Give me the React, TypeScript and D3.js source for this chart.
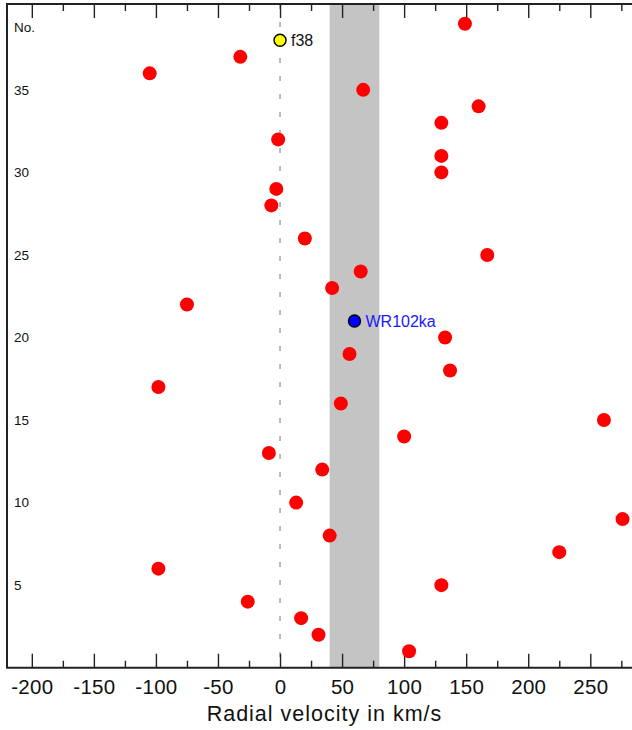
import React, { useEffect, useRef } from "react";
import * as d3 from "d3";

// star number vs. radial velocity (km/s)
const starNo = [1, 2, 3, 4, 5, 6, 7, 8, 9, 10, 12, 13, 14, 15, 16, 17, 18, 19, 20, 22, 23, 24, 25, 26, 28, 29, 30, 31, 32, 33, 34, 35, 36, 37, 39];
const velocity = [104, 31, 17, -26, 130, -98, 225, 40, 276, 13, 34, -9, 100, 261, 49, -98, 137, 56, 133, -75, 42, 65, 167, 20, -7, -3, 130, 130, -1.5, 130, 160, 67, -105, -32, 149];

// labelled stars
const markNames = ["f38", "WR102ka"];
const markNo = [38, 21];
const markVel = [0, 60];
const markFill = ["#ffff00", "#0000ff"];
const markText = ["#111111", "#1a1aff"];

// shaded velocity band
const band = [40, 80];

const majorTicks = [-200, -150, -100, -50, 0, 50, 100, 150, 200, 250];
const minorTicks = [-175, -125, -75, -25, 25, 75, 125, 175, 225, 275];
const yTickValues = [5, 10, 15, 20, 25, 30, 35, 38.8];
const yTickLabels = ["5", "10", "15", "20", "25", "30", "35", "No."];

const W = 632;
const H = 730;
const font = "'Liberation Sans', Arial, sans-serif";

const App = () => {
  const ref = useRef<SVGSVGElement>(null);

  useEffect(() => {
    if (!ref.current) return;
    const svg = d3.select(ref.current);
    svg.selectAll("*").remove();

    const left = 7, right = 630, top = 4, bottom = 667.7;

    const x = d3.scaleLinear().domain([-220, 282]).range([left, right]);
    const y = d3.scaleLinear().domain([0, 40.2]).range([bottom, top]);

    // band
    svg
      .append("rect")
      .attr("x", x(band[0]))
      .attr("y", top)
      .attr("width", x(band[1]) - x(band[0]))
      .attr("height", bottom - top)
      .attr("fill", "#c4c4c4");

    // zero line
    svg
      .append("line")
      .attr("x1", x(0))
      .attr("x2", x(0))
      .attr("y1", top)
      .attr("y2", bottom)
      .attr("stroke", "#777")
      .attr("stroke-width", 1)
      .attr("stroke-dasharray", "5,13");

    // axes
    const gBottom = svg.append("g").attr("transform", `translate(0,${bottom})`);
    gBottom.call(
      d3.axisBottom(x).tickValues(majorTicks).tickSize(-14).tickPadding(11.5).tickFormat(d => `${d}`)
    );
    const gBottomMinor = svg.append("g").attr("transform", `translate(0,${bottom})`);
    gBottomMinor.call(d3.axisBottom(x).tickValues(minorTicks).tickSize(-7).tickFormat(() => ""));

    const gTop = svg.append("g").attr("transform", `translate(0,${top})`);
    gTop.call(d3.axisTop(x).tickValues(majorTicks).tickSize(-14).tickFormat(() => ""));
    const gTopMinor = svg.append("g").attr("transform", `translate(0,${top})`);
    gTopMinor.call(d3.axisTop(x).tickValues(minorTicks).tickSize(-7).tickFormat(() => ""));

    svg.selectAll(".domain").remove();
    svg.selectAll(".tick line").attr("stroke", "#222").attr("stroke-width", 1.4);
    gBottom
      .selectAll(".tick text")
      .attr("font-family", font)
      .attr("font-size", 20.5)
      .attr("letter-spacing", 0.3)
      .attr("fill", "#111");

    // frame
    svg
      .append("path")
      .attr("d", `M${right + 2},${top}H${left}V${bottom}H${right + 2}`)
      .attr("fill", "none")
      .attr("stroke", "#222")
      .attr("stroke-width", 2);

    // y labels inside the plot
    svg
      .append("g")
      .selectAll("text")
      .data(yTickValues)
      .join("text")
      .attr("x", 14)
      .attr("y", d => y(d))
      .attr("dy", "0.35em")
      .attr("font-family", font)
      .attr("font-size", 13.5)
      .attr("fill", "#111")
      .text((d, i) => yTickLabels[i]);

    // red points
    svg
      .append("g")
      .selectAll("circle")
      .data(starNo)
      .join("circle")
      .attr("cx", (d, i) => x(velocity[i]))
      .attr("cy", d => y(d))
      .attr("r", 7)
      .attr("fill", "#ff0000");

    // labelled stars
    markNames.forEach((name, i) => {
      svg
        .append("circle")
        .attr("cx", x(markVel[i]))
        .attr("cy", y(markNo[i]))
        .attr("r", 6)
        .attr("fill", markFill[i])
        .attr("stroke", "#000")
        .attr("stroke-width", 1.4);
      svg
        .append("text")
        .attr("x", x(markVel[i]) + 11)
        .attr("y", y(markNo[i]))
        .attr("dy", "0.36em")
        .attr("font-family", font)
        .attr("font-size", 16)
        .attr("fill", markText[i])
        .text(name);
    });

    // axis title
    svg
      .append("text")
      .attr("x", 324.5)
      .attr("y", 721)
      .attr("text-anchor", "middle")
      .attr("font-family", font)
      .attr("font-size", 21.5)
      .attr("letter-spacing", 1)
      .attr("fill", "#111")
      .text("Radial velocity in km/s");
  }, []);

  return (
    <svg
      ref={ref}
      width={W}
      height={H}
      style={{ position: "absolute", left: 0, top: 0, background: "#fff" }}
    />
  );
};

export default App;
